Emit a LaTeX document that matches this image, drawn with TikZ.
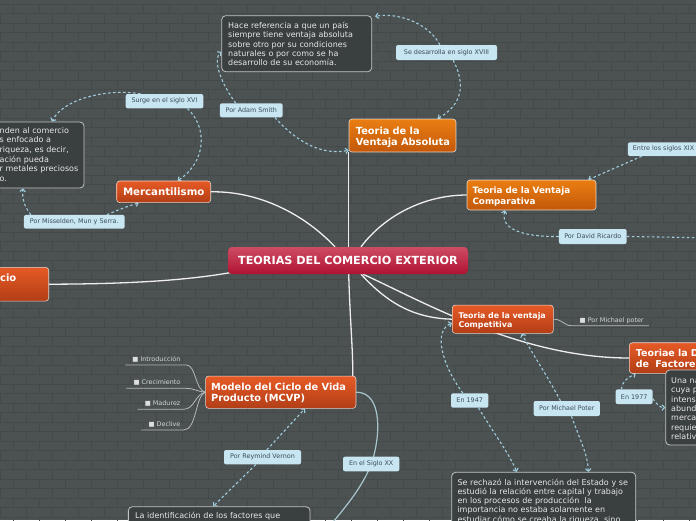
\documentclass[tikz,border=0pt]{standalone}
\usepackage{fontspec}
\setmainfont{DejaVu Sans}
\usetikzlibrary{arrows.meta,calc}
\pgfdeclarelayer{bgl}
\pgfdeclarelayer{lnl}
\pgfsetlayers{bgl,lnl,main}
\definecolor{bgc}{RGB}{76,81,82}
\definecolor{brickc}{RGB}{68,73,74}
\definecolor{orT}{RGB}{234,126,18}
\definecolor{orB}{RGB}{194,88,10}
\definecolor{rdT}{RGB}{230,90,38}
\definecolor{rdB}{RGB}{178,62,22}
\definecolor{cT}{RGB}{206,76,100}
\definecolor{cB}{RGB}{176,18,50}
\definecolor{tbox}{RGB}{58,63,64}
\definecolor{tborder}{RGB}{192,196,196}
\definecolor{lbl}{RGB}{200,230,242}
\definecolor{lbltext}{RGB}{58,76,88}
\definecolor{dashc}{RGB}{160,206,222}
\definecolor{solidb}{RGB}{168,198,206}
\definecolor{txt}{RGB}{232,232,232}
\definecolor{mainc}{RGB}{238,238,238}
\definecolor{subc}{RGB}{180,184,184}
\definecolor{subt}{RGB}{210,214,214}
\definecolor{bullc}{RGB}{222,222,222}
\newcommand\fsz[2]{\fontsize{#1}{#2}\selectfont}
\tikzset{
  topicbox/.style={draw=white, draw opacity=0.75, line width=0.6pt, rounded corners=3pt, top color=orT, bottom color=orB, inner sep=0pt},
  redbox/.style={topicbox, top color=rdT, bottom color=rdB},
  ttext/.style={text=white, inner sep=0pt, anchor=base west, align=left, text width=200pt},
  darkbox/.style={draw=tborder, fill=tbox, line width=0.8pt, rounded corners=4pt, inner sep=0pt},
  btext/.style={text=txt, inner sep=0pt, anchor=base west, align=left, text width=230pt, font=\fsz{8}{9.42}},
  lblbox/.style={fill=lbl, rounded corners=2pt, inner sep=0pt, text=lbltext, font=\fsz{6.4}{7.5}},
  rel/.style={draw=dashc, line width=1.1pt, dash pattern=on 2.6pt off 2.4pt},
  relarrow/.style={rel, -{Straight Barb[length=2.5pt,width=5.5pt]}},
  mainline/.style={draw=mainc, line width=1.3pt},
  subline/.style={draw=subc, line width=0.8pt},
  subitem/.style={text=subt, inner sep=0pt, font=\fsz{6.4}{7.5}},
  brick/.style={draw=brickc, line width=0.5pt},
}
\begin{document}
\begin{tikzpicture}[x=1pt,y=-1pt]
\useasboundingbox (0,0) rectangle (696,520);
\begin{pgfonlayer}{bgl}
\fill[bgc] (0,0) rectangle (696,520);
\foreach \r in {0,...,54}{
  \pgfmathsetmacro{\yy}{\r*9.5+4}
  \pgfmathsetmacro{\xo}{mod(\r,2)*13}
  \draw[brick] (0,\yy) -- (696,\yy);
  \foreach \c in {0,...,27}{\draw[brick] (\xo+\c*26-13,\yy) -- (\xo+\c*26-13,\yy+9.5);}
}
\end{pgfonlayer}

% ---------- topic boxes ----------
\node[top color=cT, bottom color=cB, rounded corners=4pt, minimum width=240, minimum height=27, inner sep=0pt, text=white, font=\fsz{11.2}{13}\bfseries] (ctr) at (348,260.5) {TEORIAS DEL COMERCIO EXTERIOR};

\node[topicbox, minimum width=107, minimum height=33] (abs) at (402.5,135.5) {};
\node[ttext, font=\fsz{9.8}{11.6}\bfseries] (abst) at (355.7,134) {Teoria de la\\Ventaja Absoluta};

\node[topicbox, minimum width=129, minimum height=30] (comp) at (531.5,195) {};
\node[ttext, font=\fsz{8.8}{10.7}\bfseries] (compt) at (472.3,193.5) {Teoria de la Ventaja\\Comparativa};

\node[redbox, minimum width=101, minimum height=28.3] (compe) at (502.8,319.2) {};
\node[ttext, font=\fsz{7.9}{9.3}\bfseries] (compet) at (458.3,318.3) {Teoria de la ventaja\\Competitiva};

\node[redbox, minimum width=140, minimum height=30.6] (dot) at (699.3,358) {};
\node[ttext, font=\fsz{9.5}{10.6}\bfseries] (dott) at (635.7,356.7) {Teoriae la D\\de\ \ Factores};

\node[redbox, minimum width=94, minimum height=21.7, text=white, font=\fsz{10.2}{12}\bfseries] (merc) at (163.7,191.8) {Mercantilismo};

\node[redbox, minimum width=68.7, minimum height=33.7] (ciobox) at (14.35,284.2) {};
\node[text=white, font=\fsz{10}{12}\bfseries, inner sep=0pt, anchor=base east] (ciot) at (16.5,281.2) {cio};

\node[redbox, minimum width=150.3, minimum height=32.3] (mcvp) at (280.8,392.2) {};
\node[ttext, font=\fsz{9.8}{11.7}\bfseries] (mcvpt) at (211,390) {Modelo del Ciclo de Vida\\Producto (MCVP)};

% ---------- text boxes ----------
\node[darkbox, minimum width=150, minimum height=56] (abt) at (296.7,43.7) {};
\node[btext] (abtt) at (228,28.3) {Hace referencia a que un país\\siempre tiene ventaja absoluta\\sobre otro por su condiciones\\naturales o por como se ha\\desarrollo de su economía.};

\node[darkbox, minimum width=104, minimum height=66] (mt) at (32,155) {};
\node[btext, font=\fsz{8}{9.65}] (mtt) at (-0.5,133.3) {nden al comercio\\s enfocado a\\riqueza, es decir,\\ación pueda\\r metales preciosos\\o.};

\node[darkbox, minimum width=100, minimum height=75] (una) at (715.7,407.5) {};
\node[btext, font=\fsz{8}{9.35}] (unat) at (671,383.5) {Una na\\cuya p\\intens\\abund\\merca\\requie\\relativ};

\node[darkbox, minimum width=184, minimum height=100] (rech) at (543.7,522.3) {};
\node[btext, font=\fsz{8}{9.33}] (recht) at (457.3,485) {Se rechazó la intervención del Estado y se\\estudió la relación entre capital y trabajo\\en los procesos de producción\ \ la\\importancia no estaba solamente en\\estudiar cómo se creaba la riqueza, sino};

\node[darkbox, minimum width=181.7, minimum height=100] (lid) at (219.2,556.7) {};
\node[btext] (lidt) at (135,518.3) {La identificación de los factores que};

% ---------- sub items ----------
\node[subitem, anchor=base east] (s1) at (180.5,361.5) {\textcolor{bullc}{■}\ Introducción};
\node[subitem, anchor=base east] (s2) at (180.5,384.8) {\textcolor{bullc}{■}\ Crecimiento};
\node[subitem, anchor=base east] (s3) at (180.5,405.8) {\textcolor{bullc}{■}\ Madurez};
\node[subitem, anchor=base east] (s4) at (180.5,426.5) {\textcolor{bullc}{■}\ Declive};
\node[subitem, anchor=base west] (sp) at (579.5,322.2) {\textcolor{bullc}{■}\ Por Michael poter};

% ---------- labels ----------
\node[lblbox, minimum width=77.6, minimum height=14.3] (L1) at (164.5,101.2) {Surge en el siglo XVI};
\node[lblbox, minimum width=100.7, minimum height=13.7] (L2) at (74.3,221.8) {Por Misselden, Mun y Serra.};
\node[lblbox, minimum width=62.7, minimum height=14] (L3) at (251.3,110.3) {Por Adam Smith};
\node[lblbox, minimum width=101, minimum height=15] (L4) at (446.5,52.5) {Se desarrolla en siglo XVIII};
\node[lblbox, minimum height=13.7, anchor=west, align=left, text width=85pt, inner xsep=5pt] (L5) at (627.7,149.2) {Entre los siglos XIX};
\node[lblbox, minimum width=67.7, minimum height=15] (L6) at (592.8,236.5) {Por David Ricardo};
\node[lblbox, minimum width=37.3, minimum height=14.4] (L7) at (469.7,400.5) {En 1947};
\node[lblbox, minimum width=66.3, minimum height=15] (L8) at (566.8,408.5) {Por Michael Poter};
\node[lblbox, minimum width=37, minimum height=14.7] (L9) at (634.2,396.7) {En 1977};
\node[lblbox, minimum width=77, minimum height=14.3] (L10) at (262.5,457.2) {Por Reymind Vernon};
\node[lblbox, minimum width=56.3, minimum height=14.6] (L11) at (371.2,464) {En el Siglo XX};

\coordinate (drr) at (720,238);
\coordinate (offb) at (322,535);

% ---------- connectors ----------
\begin{pgfonlayer}{lnl}
\draw[mainline] (abs.south west) -- (abs.south west |- ctr.north);
\draw[mainline] (abs.south west |- ctr.south) .. controls (350,320) and (353,350) .. ([xshift=72pt]mcvp.north);
\draw[mainline] ([xshift=13pt]ctr.north) .. controls (385,215) and (425,195) .. (comp.west);
\draw[mainline] (merc.east) .. controls (260,191) and (305,215) .. ([xshift=-13pt]ctr.north);
\draw[mainline] (ciobox.east) .. controls (150,284) and (200,278) .. ([xshift=5pt,yshift=2pt]ctr.south west);
\draw[mainline] ([xshift=13pt]ctr.south) .. controls (385,300) and (410,318) .. (compe.west);
\draw[mainline] ([xshift=15pt]ctr.south) .. controls (420,300) and (520,358) .. (dot.west);

\draw[draw=solidb, line width=1.2pt] (mcvp.east) .. controls (384,392) and (380,440) .. (L11.center);
\draw[draw=solidb, line width=1.2pt] (L11.center) .. controls (362,488) and (345,508) .. (offb);

\draw[subline] ($(s1.base west)+(-7,3.5)$) -- ($(s1.base east)+(6,3.5)$) .. controls (196,365) and (195,390) .. (mcvp.west);
\draw[subline] ($(s2.base west)+(-7,3.5)$) -- ($(s2.base east)+(5,3.5)$) .. controls (195,388.3) and (198,392) .. (mcvp.west);
\draw[subline] ($(s3.base west)+(-7,3.5)$) -- ($(s3.base east)+(3,3.5)$) .. controls (195,409) and (195,394) .. (mcvp.west);
\draw[subline] ($(s4.base west)+(-7,3.5)$) -- ($(s4.base east)+(3,3.5)$) .. controls (197,430) and (195,396) .. (mcvp.west);
\draw[subline] (compe.east) .. controls (562,319) and (564,325.7) .. ($(sp.base west)+(-8,3.5)$) -- ($(sp.base east)+(5,3.5)$);

\draw[relarrow] ($(L1.north west)+(15,0)$) .. controls (105,88) and (62,100) .. ([xshift=20pt]mt.north);
\draw[relarrow] ($(L1.south east)+(-16,0)$) .. controls (208,128) and (206,162) .. ([xshift=14pt]merc.north);
\draw[relarrow] ($(L2.north west)+(7,0)$) .. controls (24,206) and (22,198) .. ([xshift=-9pt]mt.south);
\draw[relarrow] ($(L2.north east)+(-18,0)$) .. controls (118,210) and (128,206) .. ([xshift=-25pt]merc.south);
\draw[relarrow] ($(L3.north west)+(16,0)$) .. controls (222,85) and (212,60) .. ([yshift=-8pt]abt.west);
\draw[relarrow] ($(L3.south east)+(-8,0)$) .. controls (295,140) and (320,156) .. ([yshift=2pt]abs.south west);
\draw[relarrow] ($(L4.north west)+(44,0)$) .. controls (430,25) and (400,12) .. ([xshift=3pt,yshift=-1pt]abt.north east);
\draw[relarrow] ($(L4.south east)+(-44,0)$) .. controls (466,85) and (462,105) .. ([xshift=35pt]abs.north);
\draw[relarrow] ($(L5.south west)+(14,0)$) -- ([xshift=-8pt]comp.north east);
\draw[relarrow] (L6.west) .. controls (520,237) and (500,228) .. ([xshift=-26.5pt]comp.south);
\draw[rel] (L6.east) -- (drr);
\draw[relarrow] ($(L7.north west)+(12,0)$) .. controls (440,362) and (434,330) .. ([yshift=-4pt]compe.west);
\draw[relarrow] ($(L7.south east)+(-10,0)$) .. controls (495,435) and (510,455) .. ([xshift=-27pt]rech.north);
\draw[relarrow] ($(L8.north west)+(27,0)$) .. controls (545,372) and (530,350) .. ([xshift=19pt]compe.south);
\draw[relarrow] ($(L8.south west)+(38,0)$) .. controls (580,440) and (588,455) .. ([xshift=44.6pt]rech.north);
\draw[relarrow] ($(L9.north west)+(6,0)$) .. controls (621,383) and (627,378) .. ([xshift=-63.6pt]dot.south);
\draw[relarrow] ($(L9.east)+(0,2)$) .. controls (657,405) and (660,407.5) .. (una.west);
\draw[relarrow] ($(L10.north west)+(43,0)$) -- ([xshift=24.2pt]mcvp.south);
\draw[relarrow] ($(L10.south west)+(32,0)$) -- ([xshift=-6pt]lid.north);
\end{pgfonlayer}
\end{tikzpicture}
\end{document}
